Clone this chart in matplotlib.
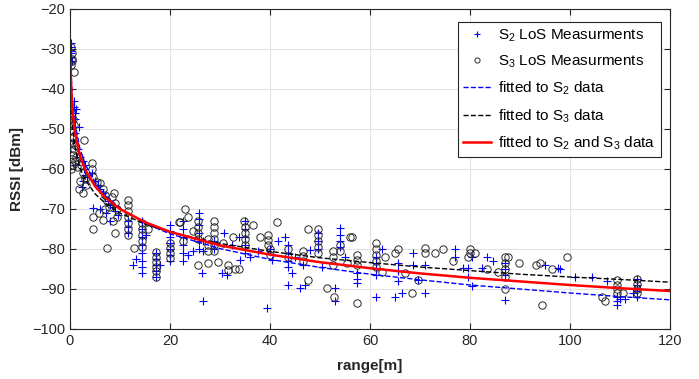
import numpy as np
import matplotlib
matplotlib.use('Agg')
import matplotlib.pyplot as plt

plt.rcParams['font.family'] = ['Liberation Sans', 'DejaVu Sans']
plt.rcParams['mathtext.default'] = 'regular'

# S2 LoS measurements (blue +)
s2_x = [0.1, 0.1, 0.2, 0.1, 0.2, 0.3, 0.8, 0.8, 0.9, 1.0, 1.2, 1.8, 1.0, 0.6, 1.5, 1.0,
        2.0, 2.5, 2.8, 3.0, 2.6, 2.4, 3.4, 3.0, 4.4, 5.0, 5.5, 6.0, 6.5, 7.0, 7.5, 8.0,
        8.5, 7.2, 8.0, 9.0, 9.5, 4.6, 6.0,
        11.6, 11.6, 11.6, 12.6, 14.4, 14.4, 14.4, 14.4, 14.4, 14.4, 14.4, 14.4, 13.2, 15.2,
        17.2, 17.2, 17.2, 17.2, 17.2, 18.0, 20, 20, 20, 20, 20, 20, 20,
        22.6, 22.6, 22.6, 22.6, 22.6, 22.6, 23.6, 24.5,
        25.8, 25.8, 25.8, 25.8, 25.8, 25.8, 26.4, 26.6, 26.6, 26.6,
        28.8, 28.8, 30.4, 30.8, 31.4, 32.4, 33.8, 34, 35, 35, 35, 35, 35, 36, 37.6,
        39.4, 40.4, 40, 41.6, 43, 43.6, 43.6, 43.6, 43.6, 43.6, 44.4, 45, 46, 47, 48, 46.6,
        49.6, 49.6, 49.6, 50.4, 53, 53, 54, 54, 54, 54, 55, 57.4, 57.4, 57.4,
        61.2, 61.2, 61.2, 61.2, 61.2, 62.4, 65, 66.4, 65.6, 65.6, 65.6, 68.6, 68.6, 69.6, 71, 71,
        77, 77, 78.6, 79.6, 79.6, 80.4, 80.4, 82.4, 83.4, 84.6,
        87, 87, 87, 87, 95, 97.6, 98,
        101, 104.4, 107.4, 109.4, 109.4, 109.4, 110, 111, 112.6, 113.4, 113.4, 113.4, 113.4]
s2_y = [-28.5, -29.5, -30.5, -31, -32, -33, -43, -44.5, -46, -47.5, -45, -49.5, -51, -53, -55, -59,
        -57, -58, -60, -61.5, -63, -64.5, -62, -59, -61, -63, -64, -65, -66, -67, -68, -69,
        -69.5, -71, -73, -70.5, -71.5, -69.8, -70,
        -73, -74.5, -76, -84, -73, -75, -77, -79, -81, -83, -84.5, -86, -82.5, -76.5,
        -81, -82.5, -84, -85.5, -87, -84, -74, -75.5, -77, -78.5, -80, -81.5, -83,
        -73, -75, -77, -79, -81, -83, -81.5, -80.5,
        -71, -72.5, -74, -76, -78, -80, -86, -93, -78, -80.5,
        -78, -80, -86, -76, -86.5, -79, -77, -82.75, -73, -75, -77, -79, -81, -82, -80.5,
        -94.75, -82.75, -80, -78, -77, -79, -81, -83, -84.5, -89, -86, -82, -89.75, -89, -80.25, -84,
        -76, -78, -80, -84.5, -89.75, -93, -74.75, -76.5, -78, -79.5, -82, -86, -87.5, -88.5,
        -82, -83.5, -85, -86.5, -92, -80, -92, -91, -83.5, -85.5, -88, -84, -81, -87.75, -91, -84,
        -80, -82, -84.8, -84.8, -87, -82, -89.25, -84.8, -82, -83,
        -83.5, -85, -86.5, -92.75, -84, -84.8, -85,
        -86.9, -86.9, -88, -92, -93, -94, -92.5, -92.5, -91, -87.5, -89, -90.5, -92]

# S3 LoS measurements (black o)
s3_x = [0.2, 0.3, 0.3, 0.2, 0.4, 0.7, 0.3, 0.5, 0.7, 0.4, 0.6, 0.3, 0.8, 0.5, 0.9, 0.6, 0.2,
        1.0, 1.2, 1.4, 0.4, 2.8, 1.8, 2.2, 2.5, 3.0, 3.2, 2.0, 1.8, 2.6,
        4.4, 4.4, 4.6, 5.4, 4.6, 4.6, 5.8,
        6, 6.5, 7, 7.4, 7.8, 8.3, 8.8, 9, 9.4, 9.4, 8.5, 7.0, 7.4, 9, 6.5,
        11.6, 11.6, 11.6, 11.6, 11.6, 11.6, 11.6, 12.8, 14.4, 14.4, 14.4, 14.4, 14.4, 15.6,
        17.2, 17.2, 17.2, 17.2, 17.2, 17.2, 20, 20, 20, 20, 21.8,
        23, 22, 23.6, 22.6, 24.5, 25.6, 25.6, 25.6, 25.6, 25.6, 27.6,
        27.6, 27.6, 27.6, 28.8, 28.8, 28.8, 28.8, 28.8, 28.8, 29.6,
        31.6, 31.6, 33, 33.8, 30.5, 32.5, 34.8, 35, 35, 35, 35, 36.6, 38, 39.6, 39.6, 39.6,
        40, 40, 41.4, 43.6, 43.6, 46.6, 46.6, 46.6,
        47.6, 47.6, 49.6, 49.6, 49.6, 49.6, 49.6, 51.4, 52.8,
        52.6, 52.6, 52.6, 54, 54, 55.4, 56, 56.4, 57.4, 57.4, 57.4, 57.4,
        61.2, 61.2, 61.2, 61.2, 61.2, 62.4, 63, 65, 65.6, 67, 68.4, 69.6,
        71, 71, 73, 74.6, 76.6, 80, 80, 79.6, 81, 83.4, 85.6,
        87, 87, 87, 87, 87, 87.6, 89.8, 93.2, 94, 96.4, 99.4, 94.4,
        106.4, 107, 109.4, 109.4, 109.4, 109.4, 110.6, 113.4, 113.4, 113.4, 113.4]
s3_y = [-29.5, -31, -32.5, -34, -33, -35.75, -46, -47.5, -49, -50.5, -52, -53.5, -55, -56.5, -58, -59, -60,
        -54, -57, -59.5, -57.5, -52.75, -57, -59, -61, -62.5, -64, -63, -65, -66,
        -58.5, -60, -62, -63.25, -72, -75, -71,
        -63.5, -65, -66.5, -68, -69.5, -67, -66, -68.5, -70, -72, -73, -70, -79.75, -76, -72.75,
        -67.75, -69, -70.5, -72, -73.5, -75, -76.5, -79.75, -73.5, -75, -76.5, -78, -79.5, -75,
        -80.75, -82, -83.2, -84.4, -85.6, -87, -78.5, -79.7, -81, -82.25, -73.25,
        -70, -73.25, -72, -78, -75.5, -73, -74.5, -76, -77.5, -84, -83.5,
        -77.5, -79, -80.5, -73, -74.5, -76, -77.5, -79, -80.5, -83.2,
        -84, -85.25, -85, -85, -78.5, -77, -73, -74.5, -76, -77.5, -79, -74, -77, -76.5, -77.8, -79,
        -80, -81.5, -73.25, -80, -82, -80.5, -81.8, -83,
        -75, -87.75, -75, -76.5, -78, -79.5, -81, -89.75, -92,
        -80.5, -82, -84, -79, -80.5, -83.5, -77, -77, -81.5, -82.7, -84, -93.5,
        -78.5, -80, -81.5, -83, -84.5, -85.75, -82, -81, -80, -86, -91, -87.75,
        -79.8, -81, -81, -80, -83, -80, -81, -82, -81, -85, -85.8,
        -82, -83.5, -85, -87, -90, -82, -83.5, -84, -83.5, -85, -82, -94,
        -92, -93, -87.75, -89, -90, -91, -91, -87.5, -88.7, -90, -91]

# fitted curves
fit_x = [0.12, 0.2, 0.3, 0.5, 1, 2, 3, 5, 7, 10, 15, 20, 30, 40, 50, 60, 70, 80, 90, 100, 110, 120]
fit_s2 = [-32.0, -35.5, -38.5, -42.8, -48.6, -55.0, -58.7, -63.4, -66.5, -69.8, -73.6, -76.2,
          -79.9, -82.6, -84.6, -86.3, -87.7, -89.0, -90.0, -91.0, -91.9, -92.7]
fit_s3 = [-36.0, -40.5, -44.5, -49.0, -54.5, -59.8, -62.6, -66.2, -68.5, -71.0, -73.8, -75.8,
          -78.6, -80.6, -82.2, -83.4, -84.5, -85.4, -86.3, -87.0, -87.6, -88.3]
fit_all = [-33.5, -37.7, -41.1, -45.3, -51.0, -56.7, -60.1, -64.3, -67.1, -70.0, -73.3, -75.7,
           -79.1, -81.4, -83.3, -84.8, -86.1, -87.2, -88.1, -89.0, -89.8, -90.5]

fig = plt.figure(figsize=(6.99, 3.79), dpi=100)
ax = fig.add_axes([70/699, 1 - 329/379, 600/699, 320/379])

ax.plot(s2_x, s2_y, '+', color='#0000ff', ms=6, mew=0.8, label='S$_2$ LoS Measurments')
ax.plot(s3_x, s3_y, 'o', mfc='none', mec='#2a2a2a', ms=5.3, mew=0.7, label='S$_3$ LoS Measurments')
ax.plot(fit_x, fit_s2, '--', color='#0000ff', lw=1, label='fitted to S$_2$ data')
ax.plot(fit_x, fit_s3, '--', color='black', lw=1, label='fitted to S$_3$ data')
ax.plot(fit_x, fit_all, '-', color='#ff0000', lw=1.8, label='fitted to S$_2$ and S$_3$ data')

ax.set_xlim(0, 120)
ax.set_ylim(-100, -20)
ax.set_xticks(np.arange(0, 121, 20))
ax.set_yticks(np.arange(-100, -19, 10))
ax.grid(True, color='#e3e3e3', lw=0.8)
ax.set_axisbelow(True)
ax.tick_params(direction='in', top=True, right=True, labelsize=10.5, colors='#262626', length=4)
for s in ax.spines.values():
    s.set_color('#262626')
    s.set_linewidth(0.8)

ax.set_xlabel('range[m]', fontsize=11, fontweight='bold', color='#262626', labelpad=8)
ax.set_ylabel('RSSI [dBm]', fontsize=11, fontweight='bold', color='#262626', labelpad=6)

leg = ax.legend(loc='upper right', bbox_to_anchor=(0.985, 0.96), fontsize=11,
                fancybox=False, framealpha=1, edgecolor='#262626', handlelength=1.8,
                handletextpad=0.5, labelspacing=0.65, markerscale=0.7, borderpad=0.35,
                borderaxespad=0)
leg.get_frame().set_linewidth(0.8)

fig.savefig('out.png', dpi=100)
